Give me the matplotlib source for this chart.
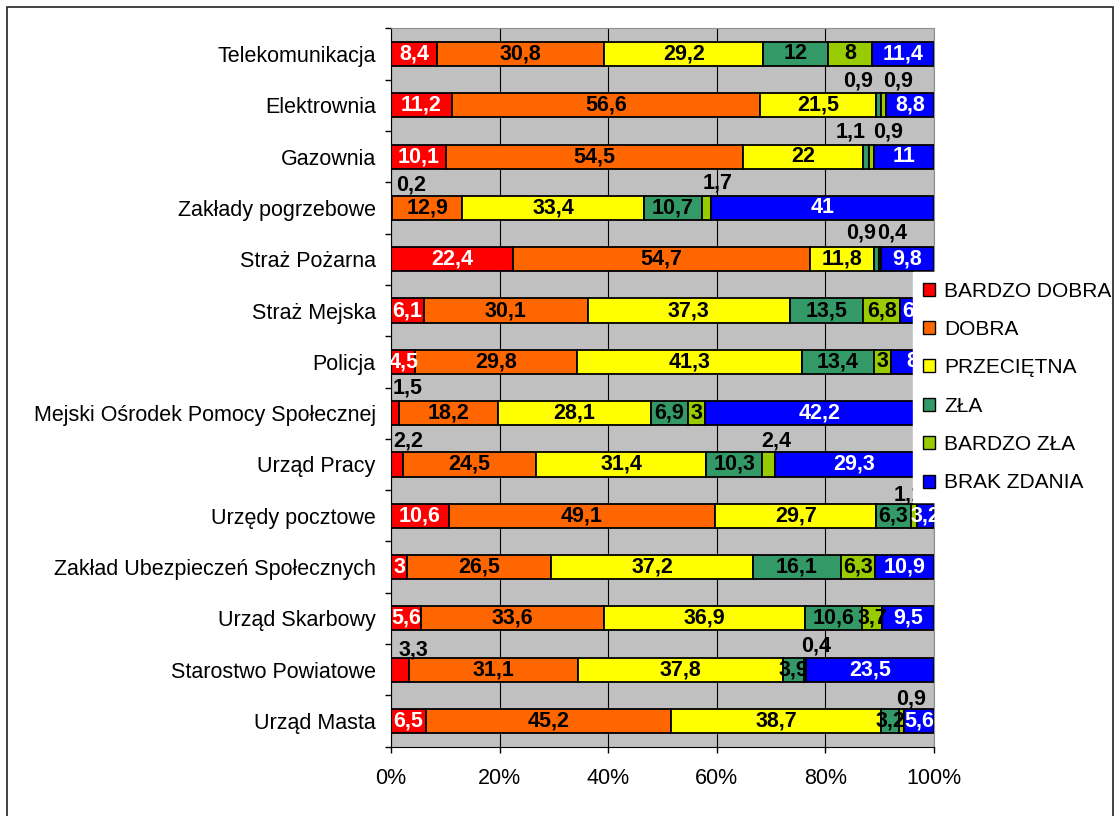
import matplotlib
matplotlib.use('Agg')
import matplotlib.pyplot as plt
from matplotlib.patches import Patch, Rectangle
import numpy as np

plt.rcParams['font.family'] = ['Liberation Sans', 'DejaVu Sans']

categories = ["Telekomunikacja", "Elektrownia", "Gazownia", "Zakłady pogrzebowe",
              "Straż Pożarna", "Straż Mejska", "Policja",
              "Mejski Ośrodek Pomocy Społecznej", "Urząd Pracy", "Urzędy pocztowe",
              "Zakład Ubezpieczeń Społecznych", "Urząd Skarbowy",
              "Starostwo Powiatowe", "Urząd Masta"]

series_names = ["BARDZO DOBRA", "DOBRA", "PRZECIĘTNA", "ZŁA", "BARDZO ZŁA", "BRAK ZDANIA"]

bardzo_dobra = [8.4, 11.2, 10.1, 0.2, 22.4, 6.1, 4.5, 1.5, 2.2, 10.6, 3, 5.6, 3.3, 6.5]
dobra = [30.8, 56.6, 54.5, 12.9, 54.7, 30.1, 29.8, 18.2, 24.5, 49.1, 26.5, 33.6, 31.1, 45.2]
przecietna = [29.2, 21.5, 22, 33.4, 11.8, 37.3, 41.3, 28.1, 31.4, 29.7, 37.2, 36.9, 37.8, 38.7]
zla = [12, 0.9, 1.1, 10.7, 0.9, 13.5, 13.4, 6.9, 10.3, 6.3, 16.1, 10.6, 3.9, 3.2]
bardzo_zla = [8, 0.9, 0.9, 1.7, 0.4, 6.8, 3, 3, 2.4, 1.1, 6.3, 3.7, 0.4, 0.9]
brak_zdania = [11.4, 8.8, 11, 41, 9.8, 6.2, 8, 42.2, 29.3, 3.2, 10.9, 9.5, 23.5, 5.6]

colors = ["#FF0000", "#FF6600", "#FFFF00", "#339966", "#99CC00", "#0000FF"]
label_colors = ["white", "black", "black", "black", "black", "white"]

# labels that sit above the bar: (row, series) -> (dx, dy) offset in pixels
above = {
    (1, 3): (-21, 24), (1, 4): (14, 24),
    (2, 3): (-15, 25), (2, 4): (16, 25),
    (3, 0): (20, 23), (3, 4): (11, 25),
    (4, 3): (-15, 26), (4, 4): (12, 26),
    (7, 0): (13, 25),
    (8, 0): (11, 23), (8, 4): (8, 23),
    (9, 4): (-5, 21),
    (12, 0): (13, 20), (12, 4): (11, 24),
    (13, 4): (10, 22),
}

data = np.array([bardzo_dobra, dobra, przecietna, zla, bardzo_zla, brak_zdania])
totals = data.sum(axis=0)
pct = data / totals * 100

W, H = 1115, 816
fig = plt.figure(figsize=(W / 100, H / 100), dpi=100)
fig.patch.set_facecolor('white')

x0, x1 = 391, 934
ytop, ybot = 28.3, 746.7
ax = fig.add_axes([x0 / W, 1 - ybot / H, (x1 - x0) / W, (ybot - ytop) / H])
ax.set_facecolor('#C0C0C0')

LBL = 15.5
n = len(categories)
ypos = np.arange(n)
left = np.zeros(n)
for i, name in enumerate(series_names):
    ax.barh(ypos, pct[i], left=left, height=0.47, color=colors[i],
            edgecolor='black', linewidth=1.3, label=name, zorder=2)
    for r in range(n):
        v = data[i, r]
        txt = f"{v:g}".replace('.', ',')
        cx = left[r] + pct[i, r] / 2
        if (r, i) in above:
            dx, dy = above[(r, i)]
            ax.annotate(txt, (cx, ypos[r]), xytext=(dx, dy), textcoords='offset pixels',
                        ha='center', va='center', fontsize=LBL, fontweight='bold',
                        color='black', zorder=4, annotation_clip=False)
        else:
            ax.text(cx, ypos[r], txt, ha='center', va='center', fontsize=LBL,
                    fontweight='bold', color=label_colors[i], zorder=4)
    left = left + pct[i]

ax.set_xlim(0, 100)
ax.set_ylim(n - 0.5, -0.5)
ax.set_xticks([0, 20, 40, 60, 80, 100])
ax.set_xticklabels(["0%", "20%", "40%", "60%", "80%", "100%"], fontsize=15.5)
ax.set_yticks(ypos)
ax.set_yticklabels(categories, fontsize=15.5)
ax.set_yticks(np.arange(n + 1) - 0.5, minor=True)
ax.tick_params(axis='y', which='major', length=0, pad=11)
ax.tick_params(axis='y', which='minor', length=4, width=1, direction='out', color='black')
ax.tick_params(axis='x', which='major', length=4, width=1, direction='out', pad=11)
ax.grid(axis='x', color='black', linewidth=0.8, zorder=1)
ax.set_axisbelow(True)
ax.spines['left'].set_color('black')
ax.spines['bottom'].set_color('black')
ax.spines['top'].set_color('#909090')
ax.spines['right'].set_color('#909090')

handles = [Patch(facecolor=c, edgecolor='black', linewidth=1) for c in colors]
leg = fig.legend(handles, series_names, loc='upper left',
                 bbox_to_anchor=(913 / W, 1 - 272 / H), bbox_transform=fig.transFigure,
                 fontsize=15, frameon=True, fancybox=False, facecolor='white',
                 edgecolor='white', framealpha=1, borderaxespad=0, borderpad=0.46,
                 handlelength=0.58, handleheight=0.58, handletextpad=0.45,
                 labelspacing=0.93)
leg.set_zorder(10)

border = Rectangle((7 / W, -0.02), 1106 / W, 1 - 7 / H + 0.02, transform=fig.transFigure,
                   fill=False, edgecolor='#222222', linewidth=1.2, zorder=20)
fig.patches.append(border)

fig.savefig('out.png', dpi=100, facecolor='white')
